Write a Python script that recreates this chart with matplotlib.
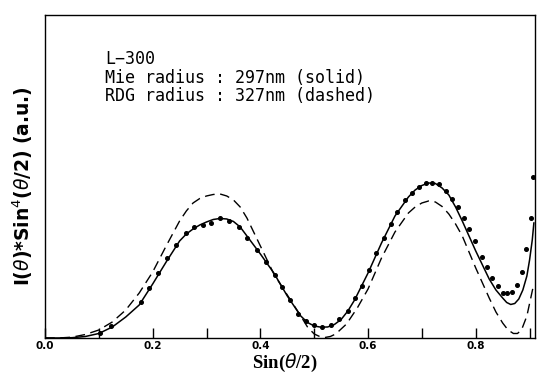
import matplotlib
matplotlib.use("Agg")
import matplotlib.pyplot as plt
import numpy as np

# Mie fit (solid)
mie_x = [0.0, 0.025, 0.05, 0.075, 0.1, 0.125, 0.15, 0.175, 0.2, 0.225, 0.25, 0.2625, 0.275,
         0.2875, 0.3, 0.3125, 0.325, 0.3375, 0.35, 0.3625, 0.375, 0.4, 0.425, 0.45, 0.475,
         0.4875, 0.5, 0.5125, 0.525, 0.5375, 0.55, 0.5625, 0.575, 0.6, 0.625, 0.65, 0.675,
         0.6875, 0.7, 0.7125, 0.725, 0.7375, 0.75, 0.7625, 0.775, 0.8, 0.825, 0.8375, 0.85,
         0.8575, 0.865, 0.8725, 0.88, 0.8875, 0.895, 0.9, 0.905, 0.908]
mie_y = [0, 0, 0.3, 1.5, 4.5, 11, 21, 33, 54, 76, 97, 104, 109,
         113, 116, 118.5, 119.5, 119, 116.5, 111, 102, 84, 65, 42, 22,
         15.5, 12, 10.8, 11, 13.5, 18.5, 27, 38, 65, 95, 122, 141,
         148, 152.5, 155, 154.5, 150, 143, 131, 117, 87, 59, 48, 40,
         35.5, 33.5, 34.5, 39, 48, 62, 78, 98, 115]

# RDG fit (dashed)
rdg_x = [0.0, 0.025, 0.05, 0.075, 0.1, 0.125, 0.15, 0.175, 0.2, 0.225, 0.25, 0.2625, 0.275,
         0.2875, 0.3, 0.3125, 0.325, 0.3375, 0.35, 0.3625, 0.375, 0.4, 0.425, 0.45, 0.475,
         0.4875, 0.5, 0.51, 0.52, 0.53, 0.54, 0.56, 0.58, 0.6, 0.625, 0.65, 0.675,
         0.6875, 0.7, 0.7125, 0.725, 0.7375, 0.75, 0.7625, 0.775, 0.8, 0.825, 0.8375, 0.85,
         0.86, 0.87, 0.8775, 0.885, 0.895, 0.907]
rdg_y = [0, 0, 0.8, 3.5, 8, 16, 28, 45, 66, 92, 117, 127, 135,
         139.5, 142, 143.5, 144, 142, 138, 131, 120, 92, 64, 43, 22,
         11, 4, 1.5, 0.5, 1.5, 4, 14, 30, 49, 80, 106, 125,
         131, 135, 137, 136, 131.5, 124, 114, 102, 70, 40, 26, 15,
         8, 4.5, 4.5, 8, 22, 52]

# measured points
dots_x = [0.102, 0.123, 0.179, 0.193, 0.21, 0.226, 0.243, 0.261, 0.276, 0.293, 0.309, 0.325,
          0.341, 0.36, 0.376, 0.393, 0.41, 0.428, 0.441, 0.455, 0.469, 0.485, 0.5, 0.515,
          0.531, 0.546, 0.562, 0.576, 0.588, 0.602, 0.615, 0.63, 0.642, 0.654, 0.669, 0.682,
          0.694, 0.707, 0.719, 0.731, 0.744, 0.755, 0.767, 0.778, 0.788, 0.799, 0.811, 0.821,
          0.831, 0.841, 0.85, 0.859, 0.867, 0.877, 0.886, 0.893, 0.902, 0.906]
dots_y = [4.7, 12, 36, 50, 65, 80, 93, 105, 111, 113, 115, 120, 117, 111, 100, 88, 76, 63,
          51, 38, 24, 17, 12.7, 11.3, 13, 18.7, 27, 40, 52, 68, 85, 100, 114, 126, 138, 145,
          151, 155, 155, 154, 147, 139, 131, 120, 109, 97, 81, 71, 60, 52, 45, 45, 46, 53,
          66, 89, 120, 161]

xticks = [0.0, 0.2, 0.4, 0.6, 0.8]

fig = plt.figure(figsize=(5.39, 3.74), dpi=100)
ax = fig.add_axes([0.0835, 0.0963, 0.909, 0.8637])

ax.plot(mie_x, mie_y, color="black", lw=1.1)
ax.plot(rdg_x, rdg_y, color="black", lw=1.0, dashes=(7, 4))
ax.plot(dots_x, dots_y, "o", color="black", ms=2.6, mec="black")

ax.set_xlim(0, 0.91)
ax.set_ylim(0, 323)
ax.set_xticks(xticks)
ax.set_xticklabels(["%.1f" % t for t in xticks], fontsize=7.5, fontweight="bold")
ax.set_xticks(np.arange(0.1, 0.91, 0.2), minor=True)
ax.tick_params(axis="x", which="both", direction="in", length=7, width=1.0, pad=2)
ax.set_yticks([])
for s in ax.spines.values():
    s.set_linewidth(1.0)

fig.text(0.529, 0.017, r"Sin($\theta$/2)", fontsize=13.5, fontweight="bold",
         family="Liberation Serif", ha="center", va="baseline")
fig.text(0.043, 0.503, r"I($\theta$)*Sin$^4$($\theta$/2) (a.u.)", rotation=90,
         fontsize=13.5, fontweight="bold", ha="center", va="center")

ax.text(0.1224, 0.892, "L\u2212300\nMie radius : 297nm (solid)\nRDG radius : 327nm (dashed)",
        transform=ax.transAxes, fontsize=12, family="DejaVu Sans Mono",
        va="top", ha="left", linespacing=1.05)

fig.savefig("out.png", dpi=100)
